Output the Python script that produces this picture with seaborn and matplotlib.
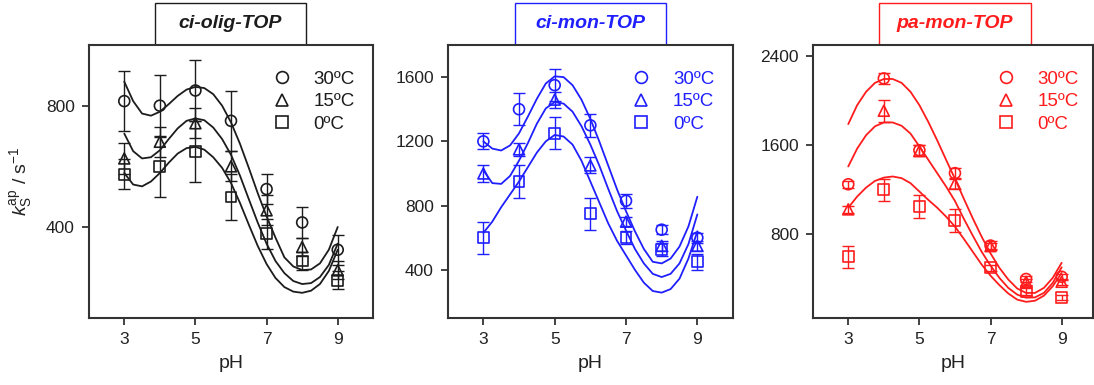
import numpy as np
import pandas as pd
import matplotlib
matplotlib.use("Agg")
import matplotlib.pyplot as plt
import seaborn as sns
from matplotlib.patches import Rectangle
from matplotlib.lines import Line2D

sns.set_theme(style="ticks")
plt.rcParams['font.family'] = ['Liberation Sans', 'DejaVu Sans']
plt.rcParams['mathtext.fontset'] = 'custom'
plt.rcParams['mathtext.rm'] = 'Liberation Sans'
plt.rcParams['mathtext.it'] = 'Liberation Sans:italic'

# ---------------- data ----------------
ph = [3, 4, 5, 6, 7, 8, 9]
temps = ["30ºC", "15ºC", "0ºC"]
markers = ["o", "^", "s"]
titles = ["ci-olig-TOP", "ci-mon-TOP", "pa-mon-TOP"]
colors = ["#1c1c1c", "#1f1fff", "#ff1c1c"]

# ci-olig-TOP
olig_30 = [815, 800, 850, 750, 525, 415, 325]
olig_30_err = [100, 100, 100, 100, 50, 50, 50]
olig_15 = [626, 681, 742, 600, 455, 334, 257]
olig_15_err = [50, 50, 50, 50, 50, 30, 30]
olig_0 = [574, 598, 648, 499, 378, 288, 224]
olig_0_err = [50, 100, 100, 75, 50, 30, 30]

# ci-mon-TOP
cimon_30 = [1200, 1400, 1550, 1300, 830, 650, 600]
cimon_30_err = [50, 100, 100, 70, 45, 30, 30]
cimon_15 = [1000, 1150, 1460, 1050, 700, 550, 550]
cimon_15_err = [50, 40, 50, 50, 30, 30, 30]
cimon_0 = [600, 950, 1250, 750, 600, 525, 450]
cimon_0_err = [100, 100, 100, 100, 40, 40, 50]

# pa-mon-TOP
pamon_30 = [1250, 2200, 1555, 1350, 700, 400, 420]
pamon_30_err = [30, 50, 50, 50, 40, 25, 25]
pamon_15 = [1025, 1910, 1550, 1255, 695, 375, 375]
pamon_15_err = [30, 100, 50, 50, 30, 25, 25]
pamon_0 = [600, 1200, 1050, 925, 500, 285, 232]
pamon_0_err = [100, 100, 100, 100, 30, 30, 20]

# fitted curves
fit_ph = [3.0, 3.25, 3.5, 3.75, 4.0, 4.25, 4.5, 4.75, 5.0, 5.25, 5.5, 5.75, 6.0,
          6.25, 6.5, 6.75, 7.0, 7.25, 7.5, 7.75, 8.0, 8.25, 8.5, 8.75, 9.0]
olig_fit_30 = [879, 815, 774, 767, 780, 805, 832, 853, 862, 858, 838, 800, 745,
               675, 595, 512, 435, 365, 300, 270, 258, 260, 280, 325, 400]
olig_fit_15 = [708, 650, 626, 630, 653, 690, 725, 750, 758, 752, 728, 690, 638,
               570, 492, 415, 345, 288, 248, 222, 212, 215, 235, 275, 345]
olig_fit_0 = [578, 540, 534, 550, 578, 612, 642, 660, 664, 655, 630, 595, 545,
              480, 408, 338, 278, 232, 202, 187, 183, 190, 212, 255, 325]

cimon_fit_30 = [1200, 1155, 1143, 1175, 1250, 1355, 1465, 1560, 1605, 1600, 1550, 1460, 1340,
                1200, 1050, 900, 765, 640, 530, 450, 440, 470, 545, 670, 855]
cimon_fit_15 = [1020, 940, 935, 985, 1080, 1190, 1310, 1405, 1445, 1435, 1385, 1295, 1180,
                1050, 905, 765, 645, 530, 440, 375, 355, 375, 440, 560, 745]
cimon_fit_0 = [630, 700, 790, 870, 950, 1040, 1130, 1200, 1240, 1230, 1180, 1080, 950,
               820, 690, 580, 490, 400, 320, 268, 258, 280, 345, 470, 640]

pamon_fit_30 = [1790, 1960, 2080, 2160, 2195, 2195, 2160, 2080, 1960, 1810, 1645, 1470, 1300,
                1120, 945, 780, 630, 500, 395, 315, 275, 275, 320, 410, 545]
pamon_fit_15 = [1410, 1570, 1690, 1770, 1805, 1805, 1775, 1705, 1590, 1470, 1350, 1230, 1100,
                940, 790, 645, 520, 410, 320, 260, 232, 235, 275, 365, 505]
pamon_fit_0 = [1040, 1140, 1220, 1280, 1310, 1320, 1305, 1260, 1185, 1110, 1040, 960, 870,
               760, 645, 530, 430, 345, 270, 215, 195, 205, 250, 335, 455]

panels = [
    dict(pts=[(olig_30, olig_30_err), (olig_15, olig_15_err), (olig_0, olig_0_err)],
         fits=[olig_fit_30, olig_fit_15, olig_fit_0],
         ylim=(100, 1000), yticks=[400, 800], xlim=(2, 10)),
    dict(pts=[(cimon_30, cimon_30_err), (cimon_15, cimon_15_err), (cimon_0, cimon_0_err)],
         fits=[cimon_fit_30, cimon_fit_15, cimon_fit_0],
         ylim=(100, 1800), yticks=[400, 800, 1200, 1600], xlim=(2, 10)),
    dict(pts=[(pamon_30, pamon_30_err), (pamon_15, pamon_15_err), (pamon_0, pamon_0_err)],
         fits=[pamon_fit_30, pamon_fit_15, pamon_fit_0],
         ylim=(50, 2500), yticks=[800, 1600, 2400], xlim=(2, 9.89)),
]

# ---------------- figure ----------------
W, H = 1094, 385
fig = plt.figure(figsize=(W / 100, H / 100), dpi=100)
fig.patch.set_facecolor("white")

ax_px = [(88.7, 284.6), (447.7, 285.3), (812.7, 280.6)]
top_px, bot_px = 45, 318
title_px = [(155, 306), (515, 666), (879, 1031)]
legend_x = [0.645, 0.645, 0.655]

for i, (p, (lx, wx)) in enumerate(zip(panels, ax_px)):
    col = colors[i]
    ax = fig.add_axes([lx / W, (H - bot_px) / H, wx / W, (bot_px - top_px) / H])
    ax.set_facecolor("white")
    # fitted curves
    for fit in p["fits"]:
        df = pd.DataFrame({"pH": fit_ph, "k": fit})
        sns.lineplot(data=df, x="pH", y="k", ax=ax, color=col, linewidth=1.3,
                     sort=False, legend=False)
    # points with error bars
    for (vals, errs), m in zip(p["pts"], markers):
        ax.errorbar(ph, vals, yerr=errs, fmt="none", ecolor=col, elinewidth=1.0,
                    capsize=4.5, capthick=1.0)
        df = pd.DataFrame({"pH": ph, "k": vals})
        sns.scatterplot(data=df, x="pH", y="k", ax=ax, marker=m, s=62,
                        facecolors="none", edgecolor=col, linewidth=1.2,
                        legend=False, zorder=5)
    ax.set_xlim(*p["xlim"])
    ax.set_ylim(*p["ylim"])
    ax.set_xticks([3, 5, 7, 9])
    ax.set_yticks(p["yticks"])
    ax.tick_params(direction="out", length=5, width=1.2, labelsize=12.5,
                   colors="#222222", pad=5)
    for s in ax.spines.values():
        s.set_color("#333333")
        s.set_linewidth(1.5)
        s.set_visible(True)
    ax.set_xlabel("pH", fontsize=14, color="#222222", labelpad=6)
    if i == 0:
        ax.set_ylabel(r"$k_{\mathrm{S}}^{\mathrm{ap}}$ / s$^{-1}$", fontsize=14,
                      color="#222222", labelpad=8)
    else:
        ax.set_ylabel("")
    # legend
    handles = [Line2D([], [], linestyle="none", marker=m, markersize=8.5,
                      markerfacecolor="none", markeredgecolor=col, markeredgewidth=1.2)
               for m in markers]
    leg = ax.legend(handles, temps, loc="upper left",
                    bbox_to_anchor=(legend_x[i], 0.905),
                    frameon=False, fontsize=13.5, handlelength=1.0, handletextpad=1.2,
                    labelspacing=0.28, borderpad=0, borderaxespad=0)
    for t in leg.get_texts():
        t.set_color(col)
    # title box
    x0, x1 = title_px[i]
    rect = Rectangle((x0 / W, (H - top_px) / H), (x1 - x0) / W, 42 / H,
                     transform=fig.transFigure, facecolor="white", edgecolor=col,
                     linewidth=1.0, zorder=0)
    fig.add_artist(rect)
    fig.text((x0 + x1) / 2 / W, (H - 24) / H, titles[i], ha="center", va="center",
             fontsize=14, fontweight="bold", fontstyle="italic", color=col)

fig.savefig("out.png", dpi=100, facecolor="white")
